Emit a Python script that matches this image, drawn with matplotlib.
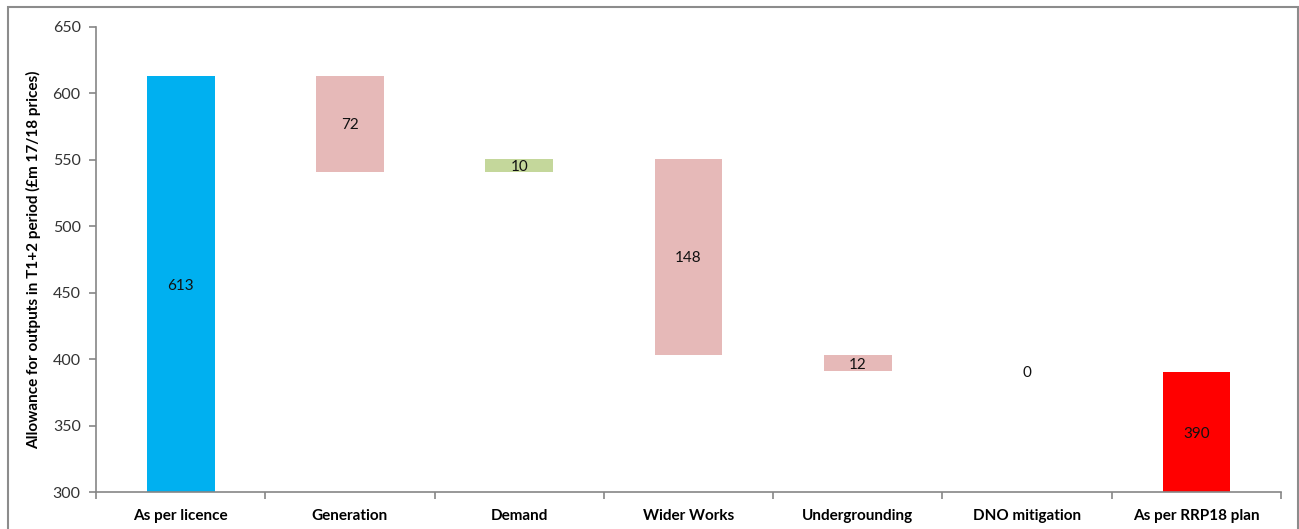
import matplotlib
matplotlib.use("Agg")
import matplotlib.pyplot as plt
from matplotlib.patches import Rectangle
import numpy as np

plt.rcParams['font.family'] = ['Lato', 'DejaVu Sans']

categories = ["As per licence", "Generation", "Demand", "Wider Works",
              "Undergrounding", "DNO mitigation", "As per RRP18 plan"]
# Bar spans (bottom, top) and printed labels
bar_bottoms = [300, 541, 541, 403, 391, 391, 300]
bar_tops = [613, 613, 551, 551, 403, 391, 390]
labels = ["613", "72", "10", "148", "12", "0", "390"]
colors = ["#00B0F0", "#E6B9B8", "#C4D79B", "#E6B9B8", "#E6B9B8", "#E6B9B8", "#FF0000"]

W, H = 1299, 529
fig = plt.figure(figsize=(W / 100, H / 100), dpi=100)
ax = fig.add_axes([96 / W, (H - 492) / H, (1281 - 96) / W, (492 - 27) / H])

x = np.arange(len(categories))
heights = [t - b for b, t in zip(bar_bottoms, bar_tops)]
ax.bar(x, heights, bottom=bar_bottoms, width=0.4, color=colors, zorder=2)

for xi, b, t, lab in zip(x, bar_bottoms, bar_tops, labels):
    ax.text(xi, (b + t) / 2, lab, ha='center', va='center_baseline', fontsize=11,
            color='#111111', zorder=3)

ax.set_ylim(300, 650)
ax.set_xlim(-0.5, len(categories) - 0.5)
ax.set_yticks(np.arange(300, 651, 50))
ax.set_xticks(x)
ax.set_xticklabels(categories, fontsize=11, fontweight='bold')
ax.set_xticks(np.arange(-0.5, len(categories), 1.0), minor=True)
ax.tick_params(axis='x', which='major', length=0, pad=12)
ax.tick_params(axis='x', which='minor', length=5, width=1.2, color='#868686')
ax.tick_params(axis='y', length=5, width=1.2, color='#868686', labelsize=11.5,
               labelcolor='#333333', pad=6)

for s in ['top', 'right']:
    ax.spines[s].set_visible(False)
for s in ['left', 'bottom']:
    ax.spines[s].set_color('#868686')
    ax.spines[s].set_linewidth(1.2)

ax.set_ylabel("Allowance for outputs in T1+2 period (£m 17/18 prices)",
              fontsize=11, fontweight='bold', labelpad=8)

# Outer frame around the chart area
frame = Rectangle((7.5 / W, -0.1), (1297.5 - 7.5) / W, 1.1 - 7.5 / H,
                  transform=fig.transFigure, fill=False,
                  edgecolor='#8c8c8c', linewidth=1.5)
fig.patches.append(frame)

fig.savefig("out.png", dpi=100)
